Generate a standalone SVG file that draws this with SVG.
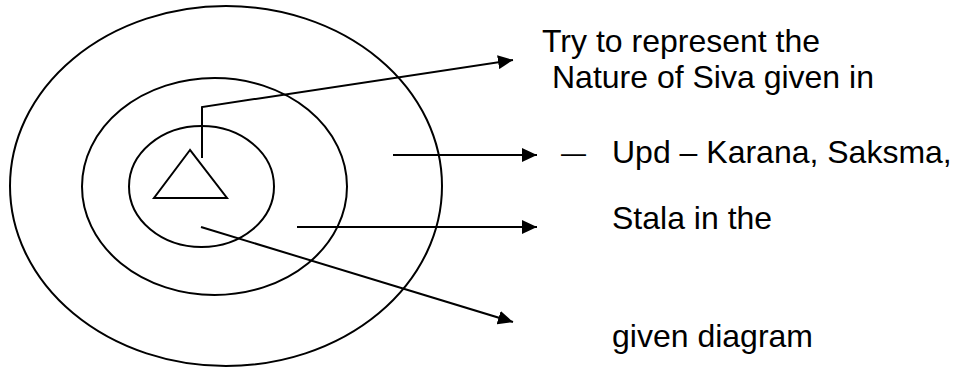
<svg xmlns="http://www.w3.org/2000/svg" width="953" height="367" viewBox="0 0 953 367">
<style>
.sh{fill:none;stroke:#000;stroke-width:2}
.cn{fill:none;stroke:#000;stroke-width:2}
.tx{font-family:"Liberation Sans",Arial,sans-serif;font-size:32px;fill:#000}
</style>
<defs>
<marker id="ah" markerUnits="userSpaceOnUse" markerWidth="16" markerHeight="14" refX="15" refY="7" orient="auto">
<path d="M0,0 L15,7 L0,14 z" fill="#000"/>
</marker>
</defs>
<rect width="953" height="367" fill="#fff"/>
<g id="outer-ring"><ellipse class="sh" cx="226" cy="186" rx="216" ry="180"/></g>
<g id="middle-ring"><ellipse class="sh" cx="214.5" cy="186.5" rx="132.5" ry="108.5"/></g>
<g id="inner-ring"><ellipse class="sh" cx="201.5" cy="186.5" rx="72.5" ry="60.5"/></g>
<g id="triangle"><polygon class="sh" points="190,150 154,198 227,198"/></g>
<g id="connectors">
<polyline class="cn" points="202,158 202,107 513,60" marker-end="url(#ah)"/>
<line class="cn" x1="393" y1="155" x2="537" y2="155" marker-end="url(#ah)"/>
<line class="cn" x1="297" y1="227" x2="537" y2="227" marker-end="url(#ah)"/>
<line class="cn" x1="201" y1="227" x2="513" y2="322" marker-end="url(#ah)"/>
</g>
<g id="labels">
<text class="tx" x="542" y="52">Try to represent the</text>
<text class="tx" x="552" y="88">Nature of Siva given in</text>
<text class="tx" x="561" y="162" style="font-size:25px">—</text>
<text class="tx" x="612" y="163">Upd – Karana, Saksma,</text>
<text class="tx" x="612" y="229">Stala in the</text>
<text class="tx" x="612" y="347">given diagram</text>
</g>
</svg>
